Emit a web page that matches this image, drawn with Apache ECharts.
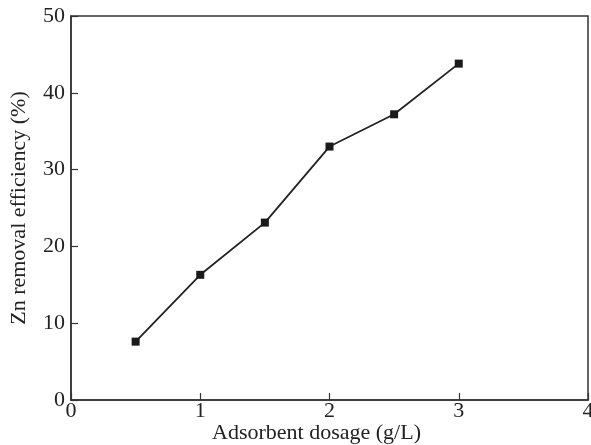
<!DOCTYPE html>
<html><head><meta charset="utf-8">
<script src="https://cdn.jsdelivr.net/npm/echarts@6/dist/echarts.min.js"></script>
<style>html,body{margin:0;padding:0;background:#fff}#c{width:591px;height:445px}</style>
</head><body><div id="c"></div>
<script>
var dosage = [0.5, 1.0, 1.5, 2.0, 2.5, 3.0];
var efficiency = [7.6, 16.3, 23.1, 33.0, 37.2, 43.8];
var xTitle = 'Adsorbent dosage (g/L)';
var yTitle = 'Zn removal efficiency (%)';
var font = 'Liberation Serif';
var chart = echarts.init(document.getElementById('c'), null, {renderer:'canvas'});
chart.setOption({
  backgroundColor:'#fff',
  animation:false,
  grid:{left:71, right:3, top:16, bottom:45, outerBoundsMode:'none', containLabel:false, show:true, borderColor:'#333', borderWidth:1.5, backgroundColor:'transparent'},
  xAxis:{type:'value', min:0, max:4, interval:1,
    name:xTitle, nameLocation:'middle', nameGap:22, nameMoveOverlap:false,
    nameTextStyle:{fontFamily:font, fontSize:22, color:'#222', padding:[0,26,0,0]},
    axisLine:{show:true, lineStyle:{color:'#333', width:1.5}},
    axisTick:{show:true, inside:true, length:7, lineStyle:{color:'#333', width:1.2}},
    axisLabel:{fontFamily:font, fontSize:22, color:'#222', margin:0},
    splitLine:{show:false}},
  yAxis:{type:'value', min:0, max:50, interval:10,
    name:yTitle, nameLocation:'middle', nameGap:41, nameRotate:90, nameMoveOverlap:false,
    nameTextStyle:{fontFamily:font, fontSize:22, color:'#222'},
    axisLine:{show:true, lineStyle:{color:'#333', width:1.5}},
    axisTick:{show:true, inside:true, length:7, lineStyle:{color:'#333', width:1.2}},
    axisLabel:{fontFamily:font, fontSize:22, color:'#222', margin:6},
    splitLine:{show:false}},
  series:[{type:'line', data:dosage.map(function(d,i){return [d, efficiency[i]];}),
    symbol:'rect', symbolSize:8, showAllSymbol:true,
    lineStyle:{color:'#222', width:1.8},
    itemStyle:{color:'#1a1a1a'}}]
});
</script></body></html>
